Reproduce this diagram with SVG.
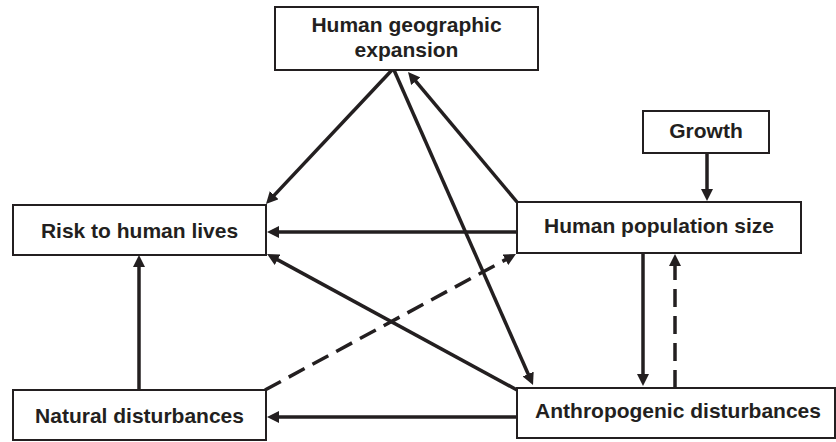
<svg xmlns="http://www.w3.org/2000/svg" width="836" height="442" viewBox="0 0 836 442">
<style>
.box{fill:#fff;stroke:#231f20;stroke-width:2}
.lbl{font-family:"Liberation Sans",Arial,sans-serif;font-weight:bold;font-size:21px;fill:#231f20;text-anchor:middle}
.c{fill:none;stroke:#231f20;stroke-width:3.5;marker-end:url(#ah)}
.d{stroke-dasharray:18 9}
</style>
<defs>
<marker id="ah" viewBox="0 0 12 12" refX="6" refY="6" markerWidth="12" markerHeight="12" markerUnits="userSpaceOnUse" orient="auto">
<path d="M0,0 L12,6 L0,12 z" fill="#231f20"/>
</marker>
</defs>
<rect width="836" height="442" fill="#fff"/>
<g id="connectors">
<line class="c" x1="392" y1="70" x2="270.1" y2="199.6"/>
<line class="c" x1="394" y1="70" x2="530.6" y2="379.5"/>
<line class="c" x1="517" y1="202" x2="411.9" y2="76.6"/>
<line class="c" x1="517" y1="232" x2="273" y2="232"/>
<line class="c" x1="517" y1="390" x2="272.3" y2="256.9"/>
<line class="c d" x1="265" y1="390" x2="510.7" y2="256.9"/>
<line class="c" x1="643" y1="253" x2="643" y2="380"/>
<line class="c d" x1="675" y1="388" x2="675" y2="260"/>
<line class="c" x1="517" y1="417" x2="273" y2="417"/>
<line class="c" x1="139" y1="390" x2="139" y2="261"/>
<line class="c" x1="707" y1="153" x2="707" y2="195"/>
</g>
<g id="hge">
<rect class="box" x="275" y="7" width="263" height="63"/>
<text class="lbl" x="406.5" y="32">Human geographic</text>
<text class="lbl" x="406.5" y="57">expansion</text>
</g>
<g id="growth">
<rect class="box" x="643" y="111" width="126" height="42"/>
<text class="lbl" x="706" y="138">Growth</text>
</g>
<g id="pop">
<rect class="box" x="517" y="202" width="284" height="51"/>
<text class="lbl" x="659" y="233">Human population size</text>
</g>
<g id="risk">
<rect class="box" x="13" y="205" width="253" height="50"/>
<text class="lbl" x="139.5" y="238">Risk to human lives</text>
</g>
<g id="natural">
<rect class="box" x="13" y="390" width="253" height="50"/>
<text class="lbl" x="139.5" y="423">Natural disturbances</text>
</g>
<g id="anthro">
<rect class="box" x="517" y="388" width="318" height="50"/>
<text class="lbl" x="678" y="418">Anthropogenic disturbances</text>
</g>
</svg>
